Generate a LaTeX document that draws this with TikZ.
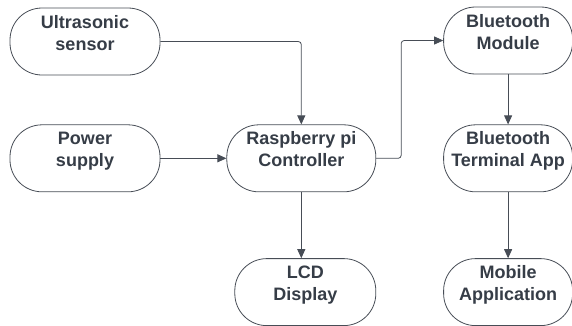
\documentclass[tikz,border=0pt]{standalone}
\usepackage{fontspec}
\setsansfont{Liberation Sans}
\usepackage{tikz}
\usetikzlibrary{arrows.meta,positioning}
\definecolor{edgegray}{HTML}{474D56}
\definecolor{inkgray}{HTML}{363D47}

\begin{document}
\begin{tikzpicture}[
  every node/.style={font=\sffamily\bfseries\fontsize{18}{22}\selectfont,align=center,text=inkgray},
  unit/.style={draw=edgegray,line width=0.8pt,fill=white,rounded corners=32pt,minimum height=67pt,inner ysep=1pt,text depth=18pt},
  arr/.style={-{Triangle[length=9pt,width=8pt]},line width=0.8pt,draw=edgegray,rounded corners=3pt}
]
\useasboundingbox (0,0) rectangle (572pt,-325pt);
\node[unit,minimum width=150pt] (sensor) at (85pt,-41.5pt) {Ultrasonic\\sensor};
\node[unit,minimum width=150pt,below=49pt of sensor] (power) {Power\\supply};
\node[unit,minimum width=149pt,right=66pt of power] (rpi) {Raspberry pi\\Controller};
\node[unit,minimum width=141pt,below=66pt of rpi,xshift=4pt] (lcd) {LCD\\Display};
\node[unit,minimum width=129pt,right=67pt of rpi] (btapp) {Bluetooth\\Terminal App};
\node[unit,minimum width=129pt,above=50pt of btapp] (btmod) {Bluetooth\\Module};
\node[unit,minimum width=129pt,below=66pt of btapp] (mobile) {Mobile\\Application};
\draw[arr] (sensor) -| (rpi);
\draw[arr] (power) -- (rpi);
\draw[arr] (rpi.east) -- ++(25pt,0) |- (btmod);
\draw[arr] (rpi) -- (rpi |- lcd.north);
\draw[arr] (btmod) -- (btapp);
\draw[arr] (btapp) -- (mobile);
\end{tikzpicture}
\end{document}
